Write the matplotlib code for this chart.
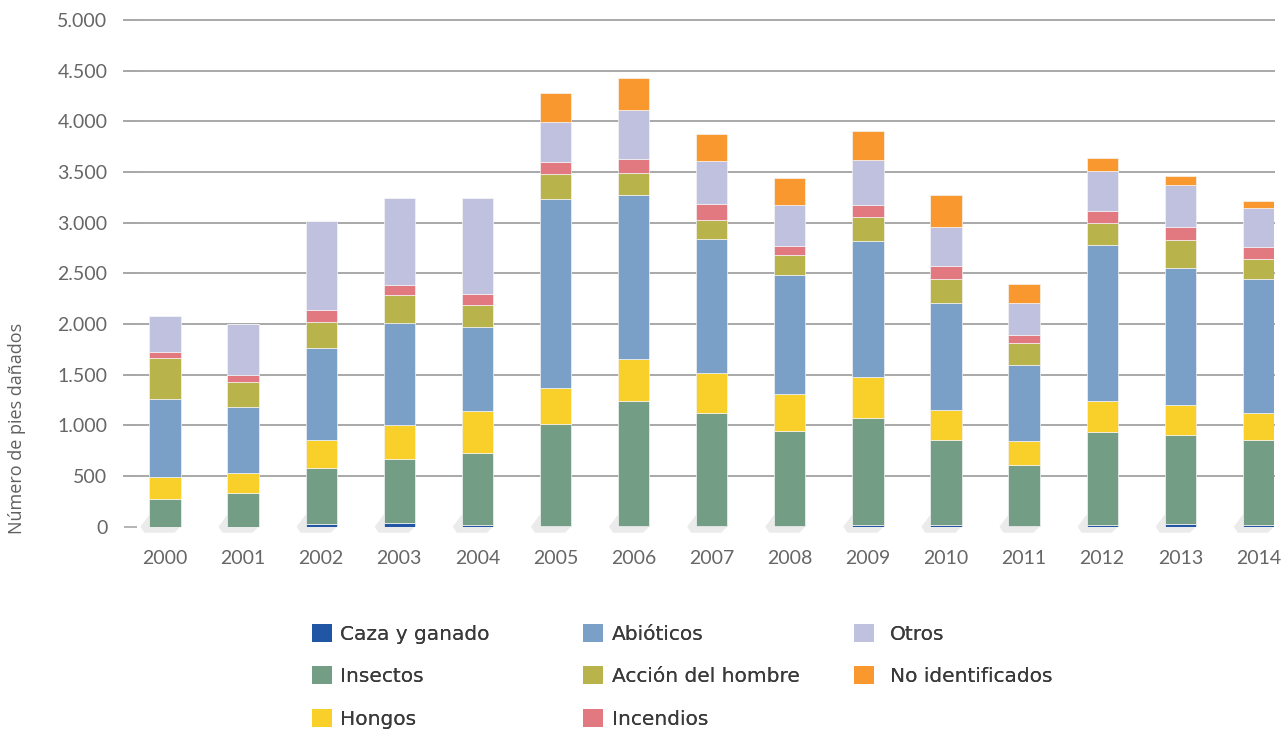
import numpy as np
import matplotlib
matplotlib.use('Agg')
import matplotlib.pyplot as plt
from matplotlib.patches import Patch, Polygon
from matplotlib.ticker import FuncFormatter

# Damaged trees per year, by cause
years = ['2000', '2001', '2002', '2003', '2004', '2005', '2006', '2007',
         '2008', '2009', '2010', '2011', '2012', '2013', '2014']
caza = [0, 0, 30, 40, 20, 8, 5, 5, 3, 20, 15, 5, 15, 30, 15]
insectos = [270, 329, 553, 632, 708, 1008, 1233, 1121, 943, 1057, 842, 608, 924, 876, 842]
hongos = [217, 201, 274, 330, 409, 349, 418, 392, 359, 396, 296, 231, 297, 297, 267]
abioticos = [770, 648, 906, 1011, 833, 1870, 1617, 1317, 1183, 1351, 1055, 747, 1545, 1347, 1324]
accion = [404, 250, 257, 270, 221, 244, 218, 195, 191, 234, 237, 218, 211, 284, 191]
incendios = [66, 72, 122, 99, 102, 115, 141, 158, 89, 115, 125, 86, 128, 128, 119]
otros = [352, 500, 870, 857, 953, 395, 478, 424, 402, 442, 389, 313, 392, 406, 382]
no_ident = [0, 0, 0, 0, 0, 290, 314, 267, 267, 293, 310, 191, 126, 88, 76]

labels = ['Caza y ganado', 'Insectos', 'Hongos', 'Abióticos',
          'Acción del hombre', 'Incendios', 'Otros', 'No identificados']
colors = ['#2156a5', '#739e85', '#f9cf2a', '#7aa0c8',
          '#b8b44b', '#e27880', '#c0c0df', '#f8982e']
series = [caza, insectos, hongos, abioticos, accion, incendios, otros, no_ident]

fig = plt.figure(figsize=(12.86, 7.31), dpi=100)
ax = fig.add_axes([124 / 1286, 1 - 526.7 / 731, 1150 / 1286, 506.7 / 731])

x = np.arange(len(years))
width = 0.4

# soft floor shadow under each bar
px = 1 / 78.1      # data units per pixel, x
py = 5000 / 506.7  # data units per pixel, y
for xi in x:
    l, r = xi - width / 2, xi + width / 2
    shadow = Polygon([(l, 12 * py), (l - 9 * px, 0), (l - 5 * px, -6 * py),
                      (r - 6 * px, -6 * py), (r, 0)],
                     closed=True, facecolor='#ebebeb', edgecolor='none',
                     zorder=1, clip_on=False)
    ax.add_patch(shadow)

bottom = np.zeros(len(years))
for vals, col in zip(series, colors):
    vals = np.array(vals, dtype=float)
    ax.bar(x, vals, width, bottom=bottom, color=col, edgecolor='#f4f4f4',
           linewidth=0.5, zorder=3)
    bottom += vals

ax.set_xlim(-0.525, 14.2)
ax.set_ylim(0, 5000)
ax.set_yticks(np.arange(0, 5001, 500))
ax.yaxis.set_major_formatter(FuncFormatter(lambda v, p: f'{int(v):,}'.replace(',', '.')))
ax.set_xticks(x)
ax.set_xticklabels(years)

ax.yaxis.grid(True, color='#a8a8a8', linewidth=1.4, zorder=0)
gl = ax.yaxis.get_gridlines()
gl[0].set_visible(False)
for g in gl:
    g.set_clip_on(False)
ax.set_axisbelow(True)
for s in ax.spines.values():
    s.set_visible(False)

ax.tick_params(axis='y', direction='in', length=9, width=1.2, color='#a8a8a8',
               pad=12, labelsize=14, labelcolor='#666666')
ax.tick_params(axis='x', length=0, pad=17, labelsize=14, labelcolor='#666666')
for t in ax.get_xticklabels() + ax.get_yticklabels():
    t.set_fontfamily('Lato')

fig.text(17 / 1286, 1 - 428 / 731, 'Número de pies dañados', rotation=90,
         ha='center', va='center', fontsize=13, color='#606060', family='Open Sans')

# legend in three fixed-width columns
handles = [Patch(facecolor=c, edgecolor='none') for c in colors]
col_x = [312, 583, 854]
col_pad = [0.4, 0.45, 0.8]
groups = [(0, 3), (3, 6), (6, 8)]
for cx, pad, (a, b) in zip(col_x, col_pad, groups):
    leg = fig.legend(handles[a:b], labels[a:b], loc='upper left',
                     bbox_to_anchor=(cx / 1286, 1 - 624 / 731),
                     frameon=False, borderpad=0, borderaxespad=0,
                     handlelength=1.0, handleheight=1.0, handletextpad=pad,
                     labelspacing=1.12, fontsize=14.5, labelcolor='#3a3a3a')
    fig.add_artist(leg)

fig.savefig('out.png', dpi=100)
